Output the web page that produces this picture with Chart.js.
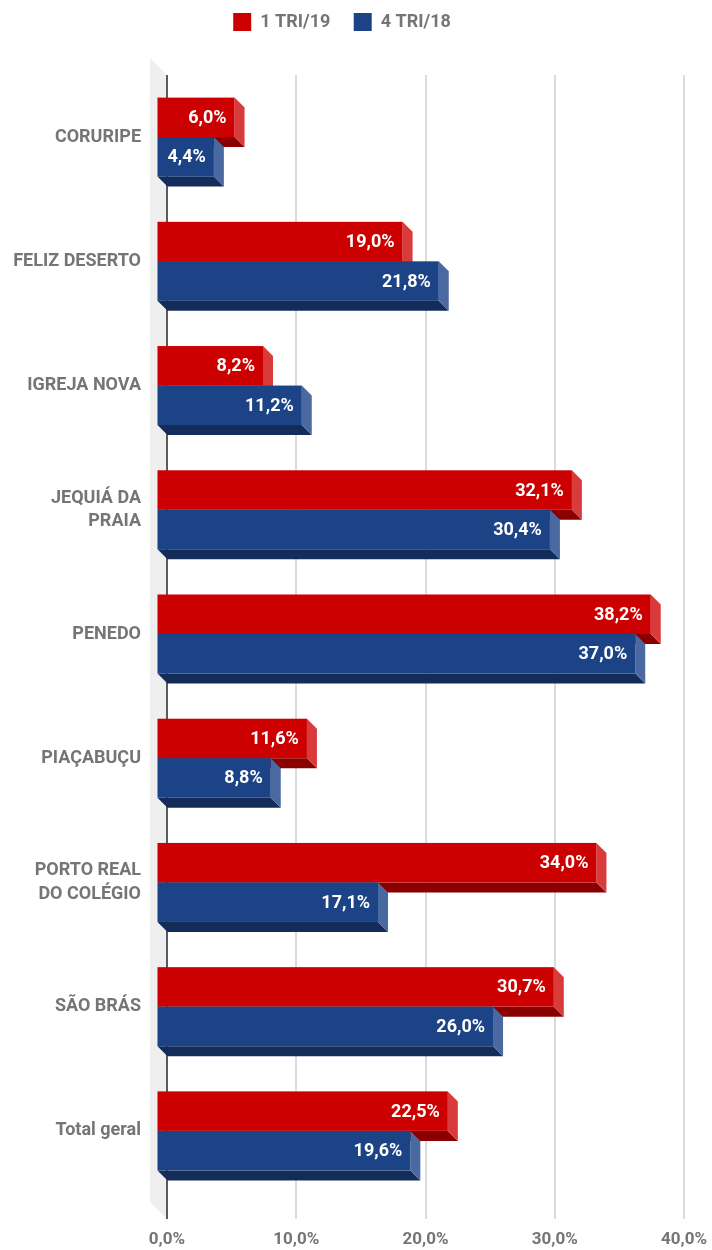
<!DOCTYPE html>
<html>
<head>
<meta charset="utf-8">
<script src="https://cdn.jsdelivr.net/npm/chart.js@4.4.1/dist/chart.umd.min.js"></script>
<style>
  html, body { margin: 0; padding: 0; background: #fff; }
  #wrap { width: 712px; height: 1250px; position: relative; }
</style>
</head>
<body>
<div id="wrap"><canvas id="barChart"></canvas></div>
<script>
const categories = ['CORURIPE', 'FELIZ DESERTO', 'IGREJA NOVA', ['JEQUIÁ DA', 'PRAIA'], 'PENEDO',
    'PIAÇABUÇU', ['PORTO REAL', 'DO COLÉGIO'], 'SÃO BRÁS', 'Total geral']
const tri119 = [6.0, 19.0, 8.2, 32.1, 38.2, 11.6, 34.0, 30.7, 22.5]
const tri418 = [4.4, 21.8, 11.2, 30.4, 37.0, 8.8, 17.1, 26.0, 19.6]
const xTicks = [0, 10, 20, 30, 40]

const grey = '#757575'
const depth = 10
// front, side, bottom colours for each series
const faces = [
    ['#cc0000', '#d93b3b', '#8a0000'],
    ['#1d4387', '#4a69a1', '#142c5a']
]

function pct(v) {
    return v.toFixed(1).replace('.', ',') + '%'
}

// 3d look: wall, gridlines, extruded bars and the value labels
var bars3d = {
    id: 'bars3d',
    beforeLayout: function (chart) {
        var lg = chart.legend
        if (lg && !lg._patched) {
            var fit = lg.fit
            lg.fit = function () {
                fit.call(this)
                this.height = 72
            }
            lg._patched = true
        }
    },
    beforeDatasetsDraw: function (chart) {
        var ctx = chart.ctx
        var area = chart.chartArea
        var xs = chart.scales.x
        var x0 = xs.getPixelForValue(0)
        var bottom = area.bottom + 26

        ctx.save()
        // back wall
        ctx.fillStyle = '#efefef'
        ctx.beginPath()
        ctx.moveTo(x0 - 17, area.top - 17)
        ctx.lineTo(x0, area.top)
        ctx.lineTo(x0, bottom)
        ctx.lineTo(x0 - 17, bottom - 17)
        ctx.closePath()
        ctx.fill()

        // gridlines
        xTicks.forEach(function (t) {
            var gx = Math.round(xs.getPixelForValue(t))
            ctx.beginPath()
            ctx.strokeStyle = t === 0 ? '#5a5a5a' : '#cfcfcf'
            ctx.lineWidth = t === 0 ? 2 : 1.5
            ctx.moveTo(gx, area.top)
            ctx.lineTo(gx, bottom)
            ctx.stroke()
        })

        chart.data.datasets.forEach(function (ds, di) {
            var meta = chart.getDatasetMeta(di)
            var col = faces[di]
            meta.data.forEach(function (bar, i) {
                var right = bar.x
                var base = bar.base
                var top = bar.y - bar.height / 2
                var bot = bar.y + bar.height / 2

                // bottom face
                ctx.fillStyle = col[2]
                ctx.beginPath()
                ctx.moveTo(base - depth, bot)
                ctx.lineTo(right - depth, bot)
                ctx.lineTo(right, bot + depth)
                ctx.lineTo(base, bot + depth)
                ctx.closePath()
                ctx.fill()

                // side face
                ctx.fillStyle = col[1]
                ctx.beginPath()
                ctx.moveTo(right - depth, top)
                ctx.lineTo(right, top + depth)
                ctx.lineTo(right, bot + depth)
                ctx.lineTo(right - depth, bot)
                ctx.closePath()
                ctx.fill()

                // front face
                ctx.fillStyle = col[0]
                ctx.fillRect(base - depth, top, right - base, bot - top)

                // value label
                ctx.fillStyle = '#ffffff'
                ctx.font = 'bold 18px Roboto'
                ctx.textAlign = 'right'
                ctx.textBaseline = 'middle'
                ctx.fillText(pct(ds.data[i]), right - depth - 8, bar.y + 1)
            })
        })
        ctx.restore()
        return false
    }
}

var barChart = new Chart(document.getElementById('barChart').getContext('2d'), {
    type: 'bar',
    data: {
        labels: categories,
        datasets: [{
                label: '1 TRI/19',
                data: tri119,
                backgroundColor: faces[0][0],
                borderWidth: 0
            },
            {
                label: '4 TRI/18',
                data: tri418,
                backgroundColor: faces[1][0],
                borderWidth: 0
            }
        ]
    },
    options: {
        indexAxis: 'y',
        responsive: true,
        maintainAspectRatio: false,
        animation: false,
        categoryPercentage: 0.636,
        barPercentage: 1.0,
        layout: {
            padding: {
                top: 3,
                right: 28,
                bottom: 0,
                left: 0
            }
        },
        plugins: {
            tooltip: {
                enabled: false
            },
            legend: {
                position: 'top',
                labels: {
                    boxWidth: 18,
                    boxHeight: 18,
                    padding: 10,
                    color: grey,
                    font: {
                        family: 'Roboto',
                        size: 18,
                        weight: 'bold'
                    },
                    generateLabels: function (chart) {
                        var items = Chart.defaults.plugins.legend.labels.generateLabels(chart)
                        items.forEach(function (it, i) {
                            it.lineWidth = 0
                            if (i < items.length - 1) it.text = it.text + '   '
                        })
                        return items
                    }
                }
            }
        },
        scales: {
            x: {
                min: 0,
                max: 40,
                grid: {
                    display: true,
                    drawOnChartArea: false,
                    color: 'rgba(0,0,0,0)',
                    tickLength: 34
                },
                border: {
                    display: false
                },
                afterFit: function (scale) {
                    scale.height = 57
                },
                ticks: {
                    stepSize: 10,
                    padding: 3,
                    color: grey,
                    font: {
                        family: 'Roboto',
                        size: 17,
                        weight: 'bold'
                    },
                    callback: function (v) {
                        return pct(v)
                    }
                }
            },
            y: {
                grid: {
                    display: true,
                    drawOnChartArea: false,
                    color: 'rgba(0,0,0,0)',
                    tickLength: 23
                },
                border: {
                    display: false
                },
                afterFit: function (scale) {
                    scale.width = 167
                },
                ticks: {
                    padding: 3,
                    color: grey,
                    font: {
                        family: 'Roboto',
                        size: 18,
                        weight: 'bold',
                        lineHeight: 1.3
                    }
                }
            }
        }
    },
    plugins: [bars3d]
})
</script>
</body>
</html>
